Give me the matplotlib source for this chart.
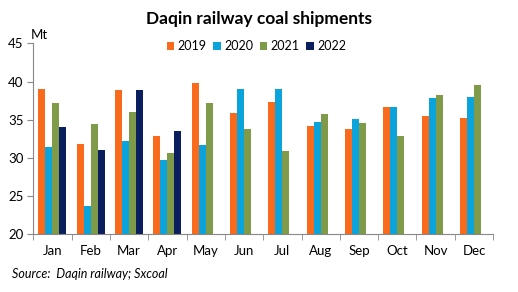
import numpy as np
import matplotlib
matplotlib.use("Agg")
import matplotlib.pyplot as plt
from matplotlib.ticker import FixedLocator

months = ["Jan", "Feb", "Mar", "Apr", "May", "Jun", "Jul", "Aug", "Sep", "Oct", "Nov", "Dec"]
y2019 = [39.0, 31.8, 38.9, 32.9, 39.8, 35.9, 37.3, 34.2, 33.8, 36.7, 35.5, 35.2]
y2020 = [31.4, 23.7, 32.2, 29.7, 31.7, 39.0, 39.0, 34.7, 35.1, 36.7, 37.8, 38.0]
y2021 = [37.2, 34.4, 36.0, 30.6, 37.2, 33.8, 30.9, 35.8, 34.6, 32.9, 38.2, 39.5]
y2022 = [34.0, 31.0, 38.9, 33.5, np.nan, np.nan, np.nan, np.nan, np.nan, np.nan, np.nan, np.nan]
series_labels = ["2019", "2020", "2021", "2022"]
yticks = [20, 25, 30, 35, 40, 45]

colors = ["#FA6A1C", "#0AA3DC", "#7F9A48", "#0B1F5E"]
plt.rcParams['font.family'] = ['Lato', 'DejaVu Sans']

fig = plt.figure(figsize=(5.18, 2.92), dpi=100)
ax = fig.add_axes([0.0643, 0.1976, 0.8877, 0.6541])

x = np.arange(len(months))
w = 0.183
for i, (vals, lab) in enumerate(zip([y2019, y2020, y2021, y2022], series_labels)):
    ax.bar(x + (i - 1.5) * w, vals, width=w, color=colors[i], label=lab, zorder=2)

ax.set_xlim(-0.5, len(months) - 0.5)
ax.set_ylim(20, 45)
ax.set_yticks(yticks)
ax.set_yticklabels([str(t) for t in yticks], fontsize=9.5)
ax.set_xticks(x)
ax.set_xticklabels(months, fontsize=9.5)
ax.tick_params(axis='x', which='major', length=0, pad=8)
ax.xaxis.set_minor_locator(FixedLocator(np.arange(-0.5, len(months), 1.0)))
ax.tick_params(axis='x', which='minor', length=4, color="#888888")
ax.tick_params(axis='y', length=4, color="#888888", pad=3)
for s in ["top", "right"]:
    ax.spines[s].set_visible(False)
for s in ["left", "bottom"]:
    ax.spines[s].set_color("#888888")

ax.text(-0.005, 1.01, "Mt", transform=ax.transAxes, fontsize=9.5, ha="left", va="bottom")

leg = ax.legend(loc="center", bbox_to_anchor=(0.4855, 0.986), ncol=4, frameon=False,
                fontsize=9, handlelength=0.6, handleheight=0.6, handletextpad=0.25,
                columnspacing=0.55, borderaxespad=0, borderpad=0)

fig.text(0.5, 0.935, "Daqin railway coal shipments", ha="center", va="center",
         fontsize=12.5, fontweight="bold")
fig.text(0.023, 0.06, "Source:  Daqin railway; Sxcoal", ha="left", va="center",
         fontsize=9, style="italic")

fig.savefig("out.png", dpi=100)
